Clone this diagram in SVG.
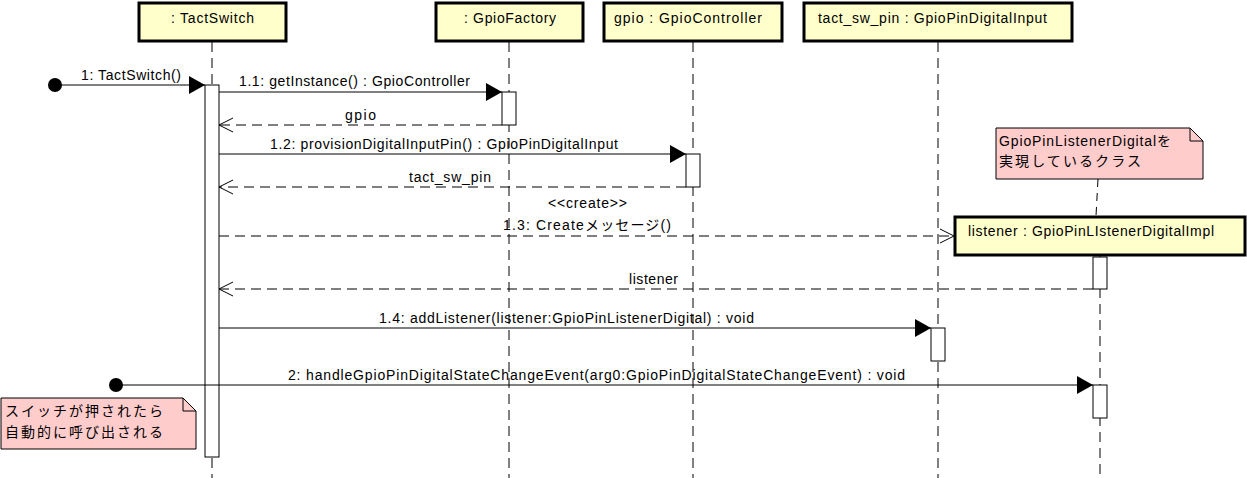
<svg xmlns="http://www.w3.org/2000/svg" width="1247" height="478" viewBox="0 0 1247 478">
<style>
text{font-family:"Liberation Sans","Noto Sans CJK JP",sans-serif;font-size:14px;fill:#000}
.box{fill:#ffffcc;stroke:#000;stroke-width:3}
.life{stroke:#000;stroke-width:1;stroke-dasharray:10,6;fill:none}
.act{fill:#fff;stroke:#000;stroke-width:1}
.msg{stroke:#000;stroke-width:1;fill:none}
.ret{stroke:#000;stroke-width:1;fill:none;stroke-dasharray:10,6}
.note{fill:#ffcccc;stroke:#000;stroke-width:1}
</style>
<defs>
<marker id="fill" markerWidth="16" markerHeight="18" refX="16" refY="9" orient="auto" markerUnits="userSpaceOnUse"><path d="M0,0 L16,9 L0,18 Z" fill="#000"/></marker>
<marker id="open" markerWidth="16" markerHeight="16" refX="15" refY="8" orient="auto" markerUnits="userSpaceOnUse"><path d="M1,1 L15,8 L1,15" fill="none" stroke="#000" stroke-width="1"/></marker>
</defs>
<rect width="1247" height="478" fill="#fff"/>

<g id="tactswitch">
<line class="life" x1="212" y1="42" x2="212" y2="478"/>
<rect class="box" x="139" y="3" width="147" height="38"/>
<text x="171" y="23" textLength="83" lengthAdjust="spacing">: TactSwitch</text>
<rect class="act" x="205" y="85" width="14" height="372"/>
</g>
<g id="gpiofactory">
<line class="life" x1="509" y1="42" x2="509" y2="478"/>
<rect class="box" x="436" y="3" width="147" height="38"/>
<text x="464" y="23" textLength="92" lengthAdjust="spacing">: GpioFactory</text>
<rect class="act" x="502" y="92" width="14" height="33"/>
</g>
<g id="gpiocontroller">
<line class="life" x1="693" y1="42" x2="693" y2="478"/>
<rect class="box" x="604" y="3" width="178" height="38"/>
<text x="614" y="23" textLength="148" lengthAdjust="spacing">gpio : GpioController</text>
<rect class="act" x="686" y="154" width="14" height="33"/>
</g>
<g id="tactswpin">
<line class="life" x1="938" y1="42" x2="938" y2="478"/>
<rect class="box" x="804" y="3" width="268" height="38"/>
<text x="818" y="23" textLength="229" lengthAdjust="spacing">tact_sw_pin : GpioPinDigitalInput</text>
<rect class="act" x="931" y="328" width="14" height="33"/>
</g>
<g id="listener">
<line class="life" x1="1100" y1="256" x2="1100" y2="478"/>
<rect class="box" x="955" y="217" width="290" height="38"/>
<text x="968" y="236" textLength="246" lengthAdjust="spacing">listener : GpioPinLIstenerDigitalImpl</text>
<rect class="act" x="1093" y="257" width="14" height="32"/>
<rect class="act" x="1093" y="385" width="14" height="33"/>
</g>
<g id="note-listener">
<line class="ret" x1="1098" y1="179" x2="1096" y2="216" style="stroke-dasharray:8,6"/>
<path class="note" d="M996,128 H1190 L1203,141 V179 H996 Z"/>
<path d="M1190,128 V141 H1203" fill="none" stroke="#000"/>
<text x="999" y="146" textLength="172" lengthAdjust="spacing">GpioPinListenerDigitalを</text>
<text x="999" y="166" textLength="142" lengthAdjust="spacing">実現しているクラス</text>
</g>
<g id="note-switch">
<path class="note" d="M1,398 H183 L196,411 V449 H1 Z"/>
<path d="M183,398 V411 H196" fill="none" stroke="#000"/>
<text x="5" y="416" textLength="158" lengthAdjust="spacing">スイッチが押されたら</text>
<text x="5" y="437" textLength="158" lengthAdjust="spacing">自動的に呼び出される</text>
</g>

<g id="connectors">
<circle cx="55" cy="85" r="7" fill="#000"/>
<line class="msg" x1="55" y1="85" x2="205" y2="85" marker-end="url(#fill)"/>
<text x="81" y="80" textLength="100" lengthAdjust="spacing">1: TactSwitch()</text>

<line class="msg" x1="219" y1="92" x2="502" y2="92" marker-end="url(#fill)"/>
<text x="239" y="86" textLength="231" lengthAdjust="spacing">1.1: getInstance() : GpioController</text>

<line class="ret" x1="502" y1="125" x2="219" y2="125" marker-end="url(#open)"/>
<text x="345" y="120" textLength="31" lengthAdjust="spacing">gpio</text>

<line class="msg" x1="219" y1="154" x2="686" y2="154" marker-end="url(#fill)"/>
<text x="270" y="149" textLength="348" lengthAdjust="spacing">1.2: provisionDigitalInputPin() : GpioPinDigitalInput</text>

<line class="ret" x1="686" y1="187" x2="219" y2="187" marker-end="url(#open)"/>
<text x="409" y="182" textLength="82" lengthAdjust="spacing">tact_sw_pin</text>

<text x="548" y="208" font-size="13" textLength="79" lengthAdjust="spacing">&lt;&lt;create&gt;&gt;</text>
<line class="ret" x1="219" y1="236" x2="954" y2="236" marker-end="url(#open)"/>
<text x="503" y="230" textLength="168" lengthAdjust="spacing">1.3: Createメッセージ()</text>

<line class="ret" x1="1093" y1="289" x2="219" y2="289" marker-end="url(#open)"/>
<text x="629" y="284" textLength="49" lengthAdjust="spacing">listener</text>

<line class="msg" x1="219" y1="328" x2="931" y2="328" marker-end="url(#fill)"/>
<text x="379" y="323" textLength="375" lengthAdjust="spacing">1.4: addListener(listener:GpioPinListenerDigital) : void</text>

<circle cx="116" cy="385" r="7" fill="#000"/>
<line class="msg" x1="116" y1="385" x2="1093" y2="385" marker-end="url(#fill)"/>
<text x="288" y="380" textLength="617" lengthAdjust="spacing">2: handleGpioPinDigitalStateChangeEvent(arg0:GpioPinDigitalStateChangeEvent) : void</text>
</g>
</svg>
